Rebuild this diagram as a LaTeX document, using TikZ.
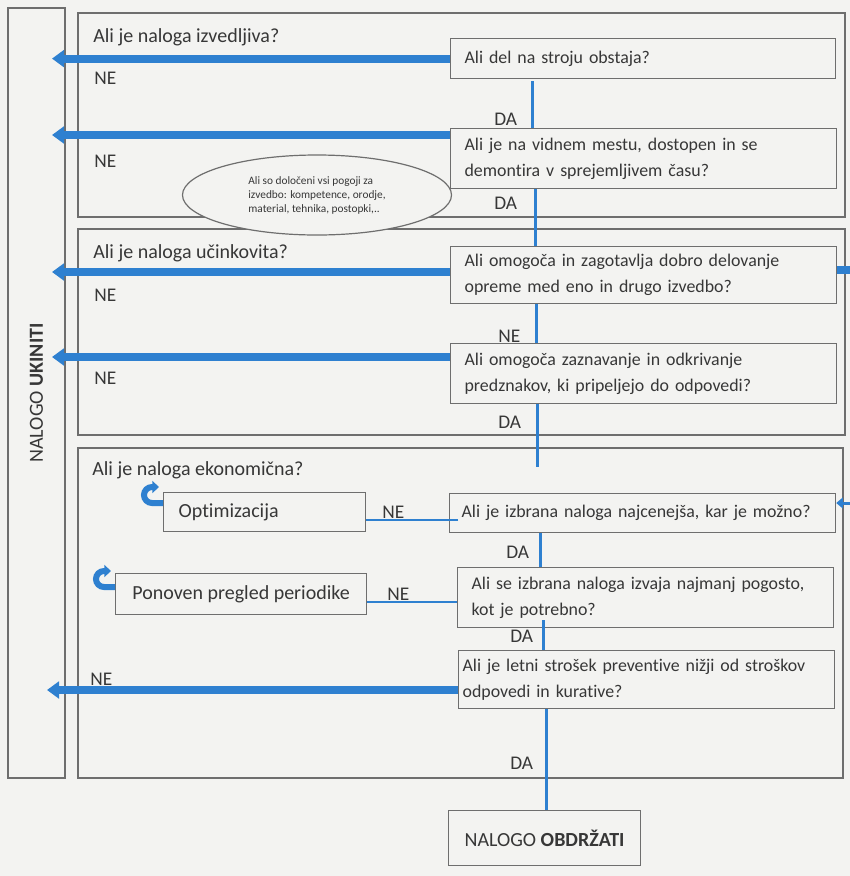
\documentclass[tikz,border=0pt]{standalone}
\usepackage{fontspec}
\setmainfont{Carlito}[Ligatures=NoCommon]
\usetikzlibrary{arrows.meta,shapes.geometric}
\definecolor{myblue}{RGB}{46,128,208}
\definecolor{boxgray}{RGB}{110,110,110}
\definecolor{txt}{RGB}{55,55,55}
\definecolor{bg}{RGB}{243,243,241}
\begin{document}
\begin{tikzpicture}[x=0.75pt,y=-0.75pt,
  every node/.style={text=txt},
  grp/.style={draw=boxgray,line width=1.1pt},
  qbox/.style={draw=boxgray,line width=0.9pt,anchor=north west,align=left,inner xsep=10.5pt,inner ysep=2pt,font=\fontsize{13.4}{19.5}\selectfont},
  sbox/.style={draw=boxgray,line width=0.9pt,anchor=north west,inner ysep=2pt,font=\fontsize{15}{18}\selectfont},
  title/.style={anchor=base west,inner sep=0pt,font=\fontsize{15}{18}\selectfont},
  lbl/.style={anchor=west,inner sep=0pt,font=\fontsize{14.5}{16}\selectfont},
  bigarrow/.style={draw=myblue,line width=6pt,-{Triangle[length=9pt,width=12.5pt]}},
  conn/.style={draw=myblue,line width=2.25pt},
  thinconn/.style={draw=myblue,line width=1.6pt},
  curl/.style={draw=myblue,line width=4.5pt,-{Triangle[length=5pt,width=9pt]}},
]
\useasboundingbox (0,0) rectangle (850,876);
\fill[bg] (0,0) rectangle (850,876);

% left column
\node[draw=boxgray,line width=1.1pt,rotate=90,minimum width=577.5pt,minimum height=42.75pt,inner sep=0pt,font=\fontsize{15}{18}\selectfont] (ukiniti) at (36.5,393) {NALOGO \textbf{UKINITI}};

% group frames
\draw[grp] (78,13) rectangle (845,217);
\draw[grp] (78,229) rectangle (845,435);
\draw[grp] (78,448) rectangle (843,778);

\node[title] (t1) at (93,42) {Ali je naloga izvedljiva?};
\node[title] (t2) at (93,258) {Ali je naloga učinkovita?};
\node[title] (t3) at (92,475) {Ali je naloga ekonomična?};

% ellipse note
\node[ellipse,draw=boxgray,line width=0.9pt,fill=bg,minimum width=201.75pt,minimum height=60pt,inner sep=0pt,align=left,font=\fontsize{8.5}{10.5}\selectfont] (ell) at (317,195) {Ali so določeni vsi pogoji za\\izvedbo: kompetence, orodje,\\material, tehnika, postopki,..};

% question boxes
\node[qbox,text width=267.75pt,minimum height=30pt] (q1) at (450,38) {Ali del na stroju obstaja?};
\node[qbox,text width=268.5pt,minimum height=45pt] (q2) at (450,128) {Ali je na vidnem mestu, dostopen in se\\demontira v sprejemljivem času?};
\node[qbox,text width=268.5pt,minimum height=42.75pt] (q3) at (450,246) {Ali omogoča in zagotavlja dobro delovanje\\opreme med eno in drugo izvedbo?};
\node[qbox,text width=268.5pt,minimum height=45pt] (q4) at (450,343) {Ali omogoča zaznavanje in odkrivanje\\predznakov, ki pripeljejo do odpovedi?};
\node[qbox,inner xsep=9pt,text width=271.5pt,minimum height=29.25pt] (q5) at (449,493) {Ali je izbrana naloga najcenejša, kar je možno?};
\node[qbox,text width=261pt,minimum height=45pt] (q6) at (457,567) {Ali se izbrana naloga izvaja najmanj pogosto,\\kot je potrebno?};
\node[qbox,inner xsep=3pt,text width=276pt,minimum height=43.5pt] (q7) at (458,650) {Ali je letni strošek preventive nižji od stroškov\\odpovedi in kurative?};

\node[sbox,align=left,inner xsep=11.25pt,text width=129pt,minimum height=29.25pt] (opt) at (163,492) {Optimizacija};
\node[sbox,minimum width=188.25pt,minimum height=30.75pt] (pon) at (115,573) {Ponoven pregled periodike};
\node[sbox,minimum width=144pt,minimum height=41.25pt] (obd) at (448,810) {NALOGO \textbf{OBDRŽATI}};

% helper coordinates
\coordinate (tipL) at (52,0);
\coordinate (tipL2) at (47,0);
\coordinate (y2) at (0,135);
\coordinate (y3) at (0,272);
\coordinate (y4) at (0,357);
\coordinate (y7) at (0,690);
\coordinate (v1) at (532,0);
\coordinate (v2) at (535,0);
\coordinate (v3) at (536,0);
\coordinate (v5) at (540,0);
\coordinate (v7) at (546,0);
\coordinate (e4) at (537,467);
\coordinate (s6) at (543,620);
\coordinate (h5) at (458,520);
\coordinate (h6) at (0,602);
\coordinate (r3) at (856,270);
\coordinate (r5) at (856,503);
\coordinate (c1) at (0,503);
\coordinate (c2) at (0,587);

% NE arrows to the left column
\draw[bigarrow] (q1.west) -- (q1.west -| tipL);
\draw[bigarrow] (q2.west |- y2) -- (tipL |- y2);
\draw[bigarrow] (q3.west |- y3) -- (tipL |- y3);
\draw[bigarrow] (q4.west |- y4) -- (tipL |- y4);
\draw[bigarrow] (q7.west |- y7) -- (tipL2 |- y7);

% vertical connectors
\draw[conn] ([yshift=-1.5pt]q1.south -| v1) -- (q2.north -| v1);
\draw[conn] (q2.south -| v2) -- (q3.north -| v2);
\draw[conn] (q3.south -| v3) -- (q4.north -| v3);
\draw[conn] (q4.south -| e4) -- (e4);
\draw[conn] (q5.south -| v5) -- (q6.north -| v5);
\draw[conn] (s6) -- (q7.north -| s6);
\draw[conn] (q7.south -| v7) -- (obd.north -| v7);

% horizontal thin connectors
\draw[thinconn] (h5) -- (opt.east |- h5);
\draw[thinconn] (q6.west |- h6) -- (pon.east |- h6);

% right-hand connector stubs
\draw[draw=myblue,line width=5.5pt] (q3.east |- r3) -- (r3);
\draw[conn,-{Triangle[length=5pt,width=8pt]}] (r5) -- (q5.east |- r5);

% loop-back icons
\draw[curl] (opt.west |- c1) -- ++(-11,0) arc[start angle=90,end angle=270,radius=8] -- ++(7,0);
\draw[curl] (pon.west |- c2) -- ++(-11,0) arc[start angle=90,end angle=270,radius=8] -- ++(7,0);

% labels
\node[lbl] (l1) at (94,78) {NE};
\node[lbl] (l2) at (94,161) {NE};
\node[lbl] (l3) at (494,119) {DA};
\node[lbl] (l4) at (494,203) {DA};
\node[lbl] (l5) at (94,295) {NE};
\node[lbl] (l6) at (94,378) {NE};
\node[lbl] (l7) at (498,336) {NE};
\node[lbl] (l8) at (498,422) {DA};
\node[lbl] (l9) at (506,552) {DA};
\node[lbl] (l10) at (510,636) {DA};
\node[lbl] (l11) at (382,512) {NE};
\node[lbl] (l12) at (387,594) {NE};
\node[lbl] (l13) at (90,679) {NE};
\node[lbl] (l14) at (510,763) {DA};
\end{tikzpicture}
\end{document}
